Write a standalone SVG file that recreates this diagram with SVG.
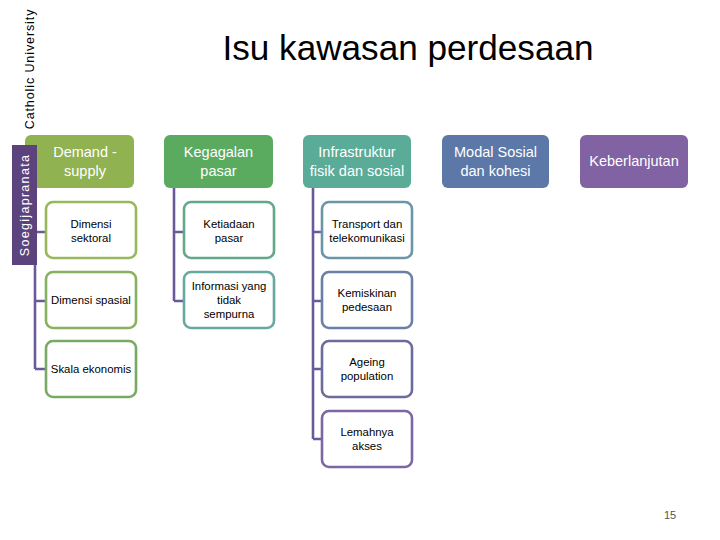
<svg xmlns="http://www.w3.org/2000/svg" width="720" height="540" viewBox="0 0 720 540">
<style>
.hd{stroke:none}
.ht{font-family:"Liberation Sans",Arial,sans-serif;font-size:14.5px;fill:#fff;text-anchor:middle}
.bx{fill:#fff;stroke-width:2.6}
.bt{font-family:"Liberation Sans",Arial,sans-serif;font-size:11.4px;fill:#000;text-anchor:middle}
.cn{fill:none;stroke:#6b5a99;stroke-width:2.6}
</style>
<rect width="720" height="540" fill="#fff"/>
<text x="408" y="60" font-family="Liberation Sans, Arial, sans-serif" font-size="35" fill="#000" text-anchor="middle" textLength="371" lengthAdjust="spacingAndGlyphs">Isu kawasan perdesaan</text>
<g id="connectors">
<path class="cn" d="M35 188V369M35 232H46M35 301H46M35 369H46"/>
<path class="cn" d="M174 188V301M174 232H184M174 301H184"/>
<path class="cn" d="M313 188V439M313 232H322M313 301H322M313 369H322M313 439H322"/>
</g>
<g id="h-demand"><rect class="hd" x="25" y="135" width="109" height="53" rx="6" fill="#91b251"/><text class="ht"><tspan x="85" y="157">Demand -</tspan><tspan x="85" y="176">supply</tspan></text></g>
<g id="h-kegagalan"><rect class="hd" x="164" y="135" width="109" height="53" rx="6" fill="#5aab5f"/><text class="ht"><tspan x="218.5" y="157">Kegagalan</tspan><tspan x="218.5" y="176">pasar</tspan></text></g>
<g id="h-infra"><rect class="hd" x="303" y="135" width="108" height="53" rx="6" fill="#5aab98"/><text class="ht"><tspan x="357" y="157">Infrastruktur</tspan><tspan x="357" y="176">fisik dan sosial</tspan></text></g>
<g id="h-modal"><rect class="hd" x="442" y="135" width="107" height="53" rx="6" fill="#5b78a8"/><text class="ht"><tspan x="495.5" y="157">Modal Sosial</tspan><tspan x="495.5" y="176">dan kohesi</tspan></text></g>
<g id="h-keberlanjutan"><rect class="hd" x="580" y="135" width="108" height="53" rx="6" fill="#8162a2"/><text class="ht" x="634" y="166">Keberlanjutan</text></g>
<g id="b-sektoral"><rect class="bx" x="46" y="202" width="90" height="56" rx="7" stroke="#98b85b"/><text class="bt"><tspan x="91" y="228">Dimensi</tspan><tspan x="91" y="242">sektoral</tspan></text></g>
<g id="b-spasial"><rect class="bx" x="46" y="272" width="90" height="56" rx="7" stroke="#88b15f"/><text class="bt" x="91" y="304">Dimensi spasial</text></g>
<g id="b-skala"><rect class="bx" x="46" y="341" width="90" height="56" rx="7" stroke="#78aa63"/><text class="bt" x="91" y="373">Skala ekonomis</text></g>
<g id="b-ketiadaan"><rect class="bx" x="184" y="202" width="90" height="56" rx="7" stroke="#64a88c"/><text class="bt"><tspan x="229" y="228">Ketiadaan</tspan><tspan x="229" y="242">pasar</tspan></text></g>
<g id="b-informasi"><rect class="bx" x="184" y="272" width="90" height="56" rx="7" stroke="#68a8a0"/><text class="bt"><tspan x="229" y="290">Informasi yang</tspan><tspan x="229" y="304">tidak</tspan><tspan x="229" y="318">sempurna</tspan></text></g>
<g id="b-transport"><rect class="bx" x="322" y="202" width="90" height="56" rx="7" stroke="#6a96a8"/><text class="bt"><tspan x="367" y="228">Transport dan</tspan><tspan x="367" y="242">telekomunikasi</tspan></text></g>
<g id="b-kemiskinan"><rect class="bx" x="322" y="272" width="90" height="56" rx="7" stroke="#6a80a6"/><text class="bt"><tspan x="367" y="297">Kemiskinan</tspan><tspan x="367" y="311">pedesaan</tspan></text></g>
<g id="b-ageing"><rect class="bx" x="322" y="341" width="90" height="56" rx="7" stroke="#6c6b9e"/><text class="bt"><tspan x="367" y="366">Ageing</tspan><tspan x="367" y="380">population</tspan></text></g>
<g id="b-lemahnya"><rect class="bx" x="322" y="411" width="90" height="56" rx="7" stroke="#7d66a2"/><text class="bt"><tspan x="367" y="436">Lemahnya</tspan><tspan x="367" y="450">akses</tspan></text></g>
<g id="sidebar"><rect x="12" y="145" width="25" height="120" fill="#5d437e"/><text transform="translate(29 205) rotate(-90)" font-family="Liberation Sans, Arial, sans-serif" font-size="12.5" fill="#fff" text-anchor="middle" letter-spacing="1.3">Soegijapranata</text></g>
<text transform="translate(34 69) rotate(-90)" font-family="Liberation Sans, Arial, sans-serif" font-size="12.5" fill="#000" text-anchor="middle" letter-spacing="0.9">Catholic University</text>
<text x="670" y="519" font-family="Liberation Sans, Arial, sans-serif" font-size="11" fill="#555" text-anchor="middle">15</text>
</svg>
